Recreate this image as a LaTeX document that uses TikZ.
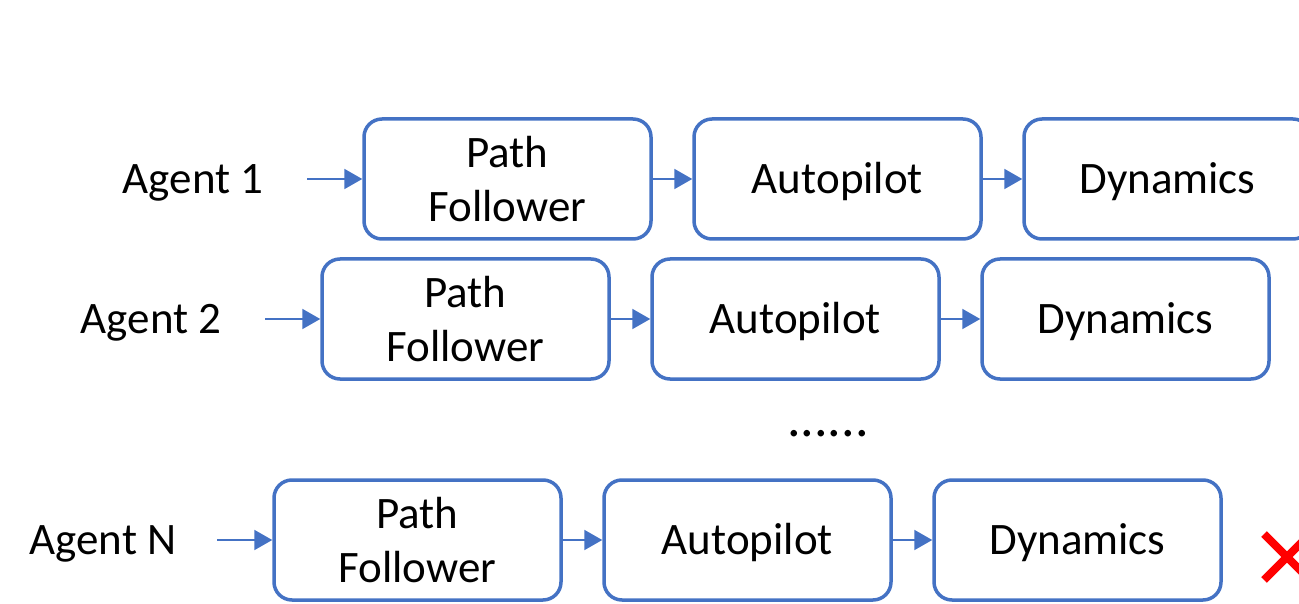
\documentclass[tikz,border=0pt]{standalone}
\usepackage{fontspec}
\setmainfont{Carlito}
\usetikzlibrary{arrows.meta}
\definecolor{boxblue}{HTML}{4472C4}
\definecolor{crossred}{HTML}{FF0000}

\begin{document}
\begin{tikzpicture}[x=1pt,y=-1pt,
  block/.style={draw=boxblue, line width=3.5pt, rounded corners=18pt,
    minimum width=287pt, minimum height=120pt, inner sep=0pt,
    align=center, font=\fontsize{45}{54}\selectfont},
  oneline/.style={text height=29pt, text depth=0pt},
  agent/.style={font=\fontsize{45}{54}\selectfont, inner sep=0pt,
    text height=29pt, text depth=0pt},
  flow/.style={draw=boxblue, line width=2pt,
    -{Triangle[length=18pt,width=20pt]}},
  cross/.style={draw=crossred, line width=8pt}
]
\useasboundingbox (0,0) rectangle (1299,604);
\clip (0,0) rectangle (1299,604);

% Agent 1
\node[agent] (a1) at (193,179) {Agent 1};
\coordinate (s1) at (307,179);
\node[block] (pf1) at (507.5,179) {Path\\Follower};
\node[block, oneline] (ap1) at (837.5,179) {Autopilot};
\node[block, oneline] (dy1) at (1167.5,179) {Dynamics};
\draw[flow] (s1) -- (pf1.west);
\draw[flow] (pf1.east) -- (ap1.west);
\draw[flow] (ap1.east) -- (dy1.west);

% Agent 2
\node[agent] (a2) at (151,319) {Agent 2};
\coordinate (s2) at (265,319);
\node[block] (pf2) at (465.5,319) {Path\\Follower};
\node[block, oneline] (ap2) at (795.5,319) {Autopilot};
\node[block, oneline] (dy2) at (1125.5,319) {Dynamics};
\draw[flow] (s2) -- (pf2.west);
\draw[flow] (pf2.east) -- (ap2.west);
\draw[flow] (ap2.east) -- (dy2.west);

% ellipsis between the rows
\node[font=\fontsize{54}{60}\selectfont, inner sep=0pt, anchor=base] (dots) at (828,436) {......};

% Agent N
\node[agent] (aN) at (103,540) {Agent N};
\coordinate (s3) at (217,540);
\node[block] (pf3) at (417.5,540) {Path\\Follower};
\node[block, oneline] (ap3) at (747.5,540) {Autopilot};
\node[block, oneline] (dy3) at (1077.5,540) {Dynamics};
\draw[flow] (s3) -- (pf3.west);
\draw[flow] (pf3.east) -- (ap3.west);
\draw[flow] (ap3.east) -- (dy3.west);

% red cross at the right edge
\coordinate (xc) at (1287,557);
\draw[cross] ([shift={(-23,-23)}]xc) -- ([shift={(23,23)}]xc);
\draw[cross] ([shift={(-23,23)}]xc) -- ([shift={(23,-23)}]xc);
\end{tikzpicture}
\end{document}
